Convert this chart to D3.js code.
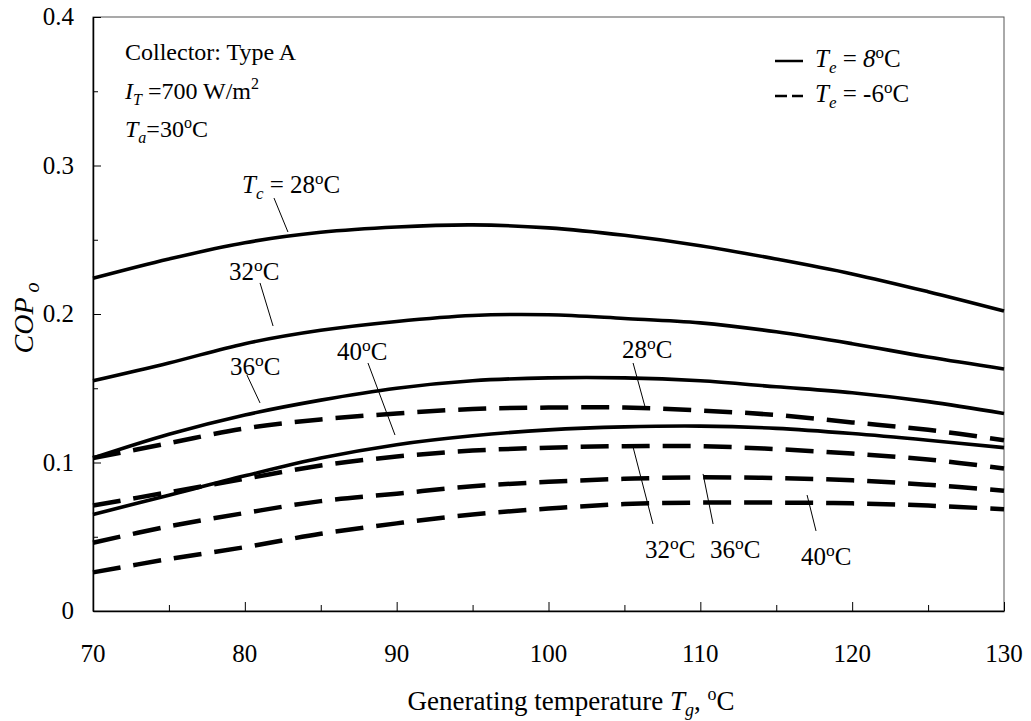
<!DOCTYPE html>
<html>
<head>
<meta charset="utf-8">
<script src="https://cdn.jsdelivr.net/npm/d3@7"></script>
<style>
  body { margin: 0; background: #fff; }
  svg text { font-family: "Liberation Serif", "Times New Roman", serif; fill: #000; }
</style>
</head>
<body>
<svg id="chart" width="1031" height="721"></svg>
<script>
// generating temperature, deg C
var tg = [70, 75, 80, 85, 90, 95, 100, 105, 110, 115, 120, 125, 130];

// COP_o for Te = 8 C (solid)
var te8_tc28 = [0.224, 0.237, 0.248, 0.255, 0.2586, 0.260, 0.258, 0.253, 0.246, 0.237, 0.227, 0.215, 0.202];
var te8_tc32 = [0.155, 0.167, 0.180, 0.189, 0.195, 0.199, 0.1995, 0.197, 0.194, 0.188, 0.180, 0.171, 0.163];
var te8_tc36 = [0.103, 0.119, 0.132, 0.142, 0.150, 0.155, 0.157, 0.157, 0.155, 0.151, 0.147, 0.141, 0.133];
var te8_tc40 = [0.065, 0.078, 0.091, 0.103, 0.112, 0.118, 0.122, 0.124, 0.1245, 0.123, 0.1195, 0.115, 0.110];

// COP_o for Te = -6 C (dashed)
var te6_tc28 = [0.103, 0.113, 0.123, 0.129, 0.133, 0.136, 0.137, 0.137, 0.135, 0.132, 0.127, 0.122, 0.115];
var te6_tc32 = [0.071, 0.080, 0.089, 0.098, 0.104, 0.108, 0.110, 0.111, 0.111, 0.109, 0.106, 0.102, 0.096];
var te6_tc36 = [0.046, 0.057, 0.066, 0.074, 0.079, 0.084, 0.087, 0.089, 0.090, 0.0895, 0.088, 0.085, 0.081];
var te6_tc40 = [0.026, 0.035, 0.043, 0.052, 0.059, 0.065, 0.069, 0.072, 0.073, 0.073, 0.0725, 0.071, 0.0685];

var xTicks = [70, 80, 90, 100, 110, 120, 130];
var yTicks = [0, 0.1, 0.2, 0.3, 0.4];

var series = [
  {vals: te8_tc28, dashed: false},
  {vals: te8_tc32, dashed: false},
  {vals: te8_tc36, dashed: false},
  {vals: te8_tc40, dashed: false},
  {vals: te6_tc28, dashed: true},
  {vals: te6_tc32, dashed: true},
  {vals: te6_tc36, dashed: true},
  {vals: te6_tc40, dashed: true}
];

var svg = d3.select("#chart");
var plotL = 93, plotR = 1004, plotT = 17, plotB = 611;

var x = d3.scaleLinear().domain([70, 130]).range([plotL, plotR]);
var y = d3.scaleLinear().domain([0, 0.4]).range([plotB, plotT]);

// frame
svg.append("rect")
  .attr("x", plotL).attr("y", plotT)
  .attr("width", plotR - plotL).attr("height", plotB - plotT)
  .attr("fill", "none").attr("stroke", "#555").attr("stroke-width", 1);

// axes, ticks pointing inward
var xAxis = svg.append("g").attr("transform", "translate(0," + plotB + ")")
  .call(d3.axisTop(x).tickValues(d3.range(70, 131, 5)).tickSize(6).tickSizeOuter(0).tickFormat(""));
xAxis.selectAll(".tick line").attr("y2", function(d){ return d % 10 === 0 ? -9 : -6; });
xAxis.select(".domain").attr("stroke-width", 1.5);

var yAxis = svg.append("g").attr("transform", "translate(" + plotL + ",0)")
  .call(d3.axisRight(y).tickValues(d3.range(0, 0.401, 0.05)).tickSize(6).tickSizeOuter(0).tickFormat(""));
yAxis.selectAll(".tick line").attr("x2", function(d, i){ return i % 2 === 0 ? 8 : 5; });
yAxis.select(".domain").attr("stroke-width", 1.5);

svg.append("g").selectAll("text").data(xTicks).enter().append("text")
  .attr("x", function(d){ return x(d); })
  .attr("y", 662)
  .attr("text-anchor", "middle")
  .attr("font-size", 25)
  .text(function(d){ return d; });

svg.append("g").selectAll("text").data(yTicks).enter().append("text")
  .attr("x", 74)
  .attr("y", function(d){ return y(d) + 8; })
  .attr("text-anchor", "end")
  .attr("font-size", 25)
  .text(function(d){ return d === 0 ? "0" : d3.format(".1f")(d); });

// curves
var line = d3.line()
  .x(function(d, i){ return x(tg[i]); })
  .y(function(d){ return y(d); })
  .curve(d3.curveCatmullRom.alpha(0.5));

svg.append("g").selectAll("path").data(series).enter().append("path")
  .attr("d", function(s){ return line(s.vals); })
  .attr("fill", "none")
  .attr("stroke", "#000")
  .attr("stroke-width", function(s){ return s.dashed ? 4.5 : 3.6; })
  .attr("stroke-dasharray", function(s){ return s.dashed ? "28,13" : null; });

// leader lines and curve labels (data coords)
var leaders = [
  [81.92, 0.2781, 82.84, 0.2552],
  [81.00, 0.2209, 81.86, 0.1919],
  [80.14, 0.1589, 81.00, 0.1401],
  [88.11, 0.1670, 89.89, 0.1185],
  [105.57, 0.1670, 106.36, 0.1374],
  [105.57, 0.1104, 106.88, 0.0586],
  [110.18, 0.0923, 110.84, 0.0586],
  [117.03, 0.0781, 117.62, 0.0539]
];
svg.append("g").selectAll("line").data(leaders).enter().append("line")
  .attr("x1", function(d){ return x(d[0]); })
  .attr("y1", function(d){ return y(d[1]); })
  .attr("x2", function(d){ return x(d[2]); })
  .attr("y2", function(d){ return y(d[3]); })
  .attr("stroke", "#000").attr("stroke-width", 1);

var tcLabels = [
  [78.95, 0.2229, "32"],
  [79.02, 0.1589, "36"],
  [86.07, 0.1690, "40"],
  [104.84, 0.1704, "28"],
  [106.36, 0.0357, "32"],
  [110.64, 0.0357, "36"],
  [116.63, 0.0310, "40"]
];
function degLabel(g, px, py, num, size) {
  var t = g.append("text").attr("x", px).attr("y", py).attr("font-size", size);
  t.append("tspan").text(num);
  t.append("tspan").attr("dy", -9).attr("font-size", size * 0.7).text("o");
  t.append("tspan").attr("dy", 9).text("C");
  return t;
}
var lab = svg.append("g");
tcLabels.forEach(function(d){ degLabel(lab, x(d[0]), y(d[1]), d[2], 25); });

// Tc = 28 C label
var tc = lab.append("text").attr("x", 242).attr("y", 193).attr("font-size", 25);
tc.append("tspan").attr("font-style", "italic").text("T");
tc.append("tspan").attr("font-style", "italic").attr("font-size", 17).attr("dy", 6).text("c");
tc.append("tspan").attr("dy", -6).text(" = 28");
tc.append("tspan").attr("dy", -9).attr("font-size", 17).text("o");
tc.append("tspan").attr("dy", 9).text("C");

// conditions block
var info = svg.append("g");
info.append("text").attr("x", 125).attr("y", 60).attr("font-size", 24).text("Collector: Type A");
var it = info.append("text").attr("x", 125).attr("y", 99).attr("font-size", 24);
it.append("tspan").attr("font-style", "italic").text("I");
it.append("tspan").attr("font-style", "italic").attr("font-size", 16).attr("dy", 6).text("T");
it.append("tspan").attr("dy", -6).text(" =700 W/m");
it.append("tspan").attr("dy", -10).attr("font-size", 16).text("2");
var ta = info.append("text").attr("x", 125).attr("y", 137).attr("font-size", 24);
ta.append("tspan").attr("font-style", "italic").text("T");
ta.append("tspan").attr("font-style", "italic").attr("font-size", 16).attr("dy", 6).text("a");
ta.append("tspan").attr("dy", -6).text("=30");
ta.append("tspan").attr("dy", -9).attr("font-size", 16).text("o");
ta.append("tspan").attr("dy", 9).text("C");

// legend
var legendItems = [
  {dashed: false, num: "8", italicNum: true, ly: 61},
  {dashed: true, num: "-6", italicNum: false, ly: 96}
];
var leg = svg.append("g");
legendItems.forEach(function(d){
  leg.append("line")
    .attr("x1", 775).attr("x2", 803).attr("y1", d.ly).attr("y2", d.ly)
    .attr("stroke", "#000").attr("stroke-width", 2.5)
    .attr("stroke-dasharray", d.dashed ? "12,5" : null);
  var t = leg.append("text").attr("x", 815).attr("y", d.ly + 6).attr("font-size", 25);
  t.append("tspan").attr("font-style", "italic").text("T");
  t.append("tspan").attr("font-style", "italic").attr("font-size", 17).attr("dy", 6).text("e");
  t.append("tspan").attr("dy", -6).text(d.dashed ? "  = " : " = ");
  t.append("tspan").attr("font-style", d.italicNum ? "italic" : "normal").text(d.num);
  t.append("tspan").attr("dy", -9).attr("font-size", 17).text("o");
  t.append("tspan").attr("dy", 9).text("C");
});

// axis titles
var xt = svg.append("text").attr("x", 571).attr("y", 710).attr("text-anchor", "middle").attr("font-size", 27);
xt.append("tspan").text("Generating temperature ");
xt.append("tspan").attr("font-style", "italic").text("T");
xt.append("tspan").attr("font-style", "italic").attr("font-size", 18).attr("dy", 6).text("g");
xt.append("tspan").attr("dy", -6).text(", ");
xt.append("tspan").attr("dy", -10).attr("font-size", 18).text("o");
xt.append("tspan").attr("dy", 10).text("C");

var yt = svg.append("text")
  .attr("transform", "translate(33,318) rotate(-90)")
  .attr("text-anchor", "middle").attr("font-size", 28).attr("font-style", "italic");
yt.append("tspan").text("COP");
yt.append("tspan").attr("font-size", 20).attr("dy", 6).text(" o");
</script>
</body>
</html>
